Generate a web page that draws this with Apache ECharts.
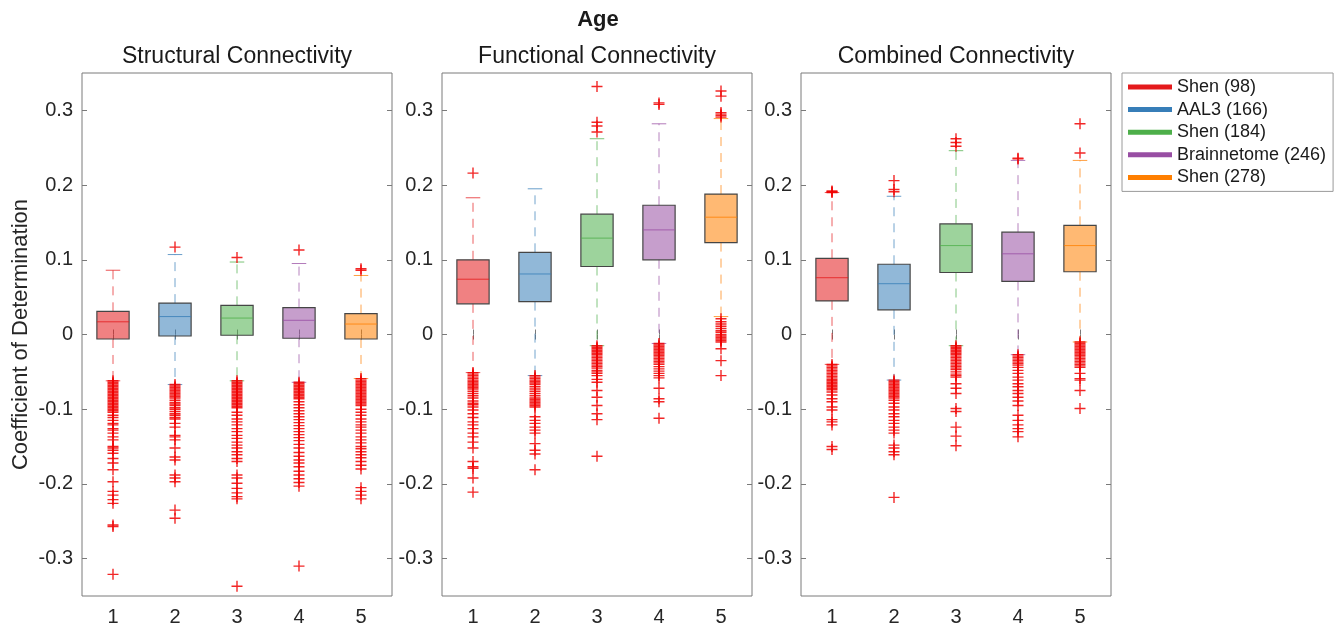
<!DOCTYPE html>
<html>
<head>
<meta charset="utf-8">
<script src="https://cdn.jsdelivr.net/npm/echarts@6/dist/echarts.min.js"></script>
<style>
html, body { margin: 0; padding: 0; background: #fff; }
#main { width: 1341px; height: 627px; }
</style>
</head>
<body>
<div id="main"></div>
<script>
// categories / labels
const categories = ['1', '2', '3', '4', '5'];
const atlasNames = ['Shen (98)', 'AAL3 (166)', 'Shen (184)', 'Brainnetome (246)', 'Shen (278)'];
const atlasColors = ['#e41a1c', '#377eb8', '#4daf4a', '#984ea3', '#ff7f00'];
const panelTitles = ['Structural Connectivity', 'Functional Connectivity', 'Combined Connectivity'];
const yTicks = [-0.3, -0.2, -0.1, 0, 0.1, 0.2, 0.3];

// box stats: [lower whisker, q1, median, q3, upper whisker]
const structBoxes = [
    [-0.062, -0.006, 0.017, 0.031, 0.086],
    [-0.067, -0.002, 0.024, 0.042, 0.107],
    [-0.062, -0.001, 0.022, 0.039, 0.097],
    [-0.064, -0.005, 0.019, 0.036, 0.095],
    [-0.059, -0.006, 0.014, 0.028, 0.079]
];
const funcBoxes = [
    [-0.051, 0.041, 0.074, 0.100, 0.183],
    [-0.055, 0.044, 0.081, 0.110, 0.195],
    [-0.015, 0.091, 0.129, 0.161, 0.262],
    [-0.012, 0.100, 0.140, 0.173, 0.282],
    [0.024, 0.123, 0.157, 0.188, 0.289]
];
const combBoxes = [
    [-0.040, 0.045, 0.076, 0.102, 0.190],
    [-0.061, 0.033, 0.068, 0.094, 0.185],
    [-0.015, 0.083, 0.119, 0.148, 0.246],
    [-0.027, 0.071, 0.108, 0.137, 0.233],
    [-0.010, 0.084, 0.119, 0.146, 0.233]
];

// outliers per box
const structOutliers = [
    [-0.062, -0.064, -0.066, -0.068, -0.070, -0.072, -0.074, -0.076, -0.078, -0.080, -0.082, -0.084, -0.086, -0.088, -0.090,
     -0.092, -0.094, -0.096, -0.098, -0.100, -0.102, -0.104, -0.108, -0.111, -0.115, -0.119, -0.121, -0.126, -0.128, -0.132,
     -0.137, -0.141, -0.150, -0.152, -0.155, -0.159, -0.166, -0.172, -0.181, -0.197, -0.210, -0.215, -0.221, -0.226, -0.255,
     -0.257, -0.321],
    [0.117, -0.067, -0.069, -0.071, -0.073, -0.075, -0.077, -0.079, -0.081, -0.083, -0.085, -0.088, -0.091, -0.093, -0.095,
     -0.098, -0.100, -0.103, -0.106, -0.108, -0.111, -0.113, -0.119, -0.124, -0.135, -0.137, -0.141, -0.152, -0.164, -0.168,
     -0.188, -0.192, -0.197, -0.235, -0.246],
    [0.103, -0.062, -0.064, -0.066, -0.068, -0.070, -0.072, -0.074, -0.076, -0.078, -0.080, -0.082, -0.084, -0.086, -0.088,
     -0.090, -0.092, -0.094, -0.096, -0.098, -0.104, -0.108, -0.113, -0.117, -0.121, -0.126, -0.130, -0.135, -0.139, -0.144,
     -0.148, -0.152, -0.157, -0.161, -0.166, -0.170, -0.188, -0.192, -0.199, -0.206, -0.212, -0.217, -0.220, -0.337],
    [0.113, -0.064, -0.066, -0.068, -0.070, -0.072, -0.074, -0.076, -0.078, -0.080, -0.082, -0.084, -0.086, -0.090, -0.094,
     -0.098, -0.102, -0.106, -0.110, -0.114, -0.118, -0.122, -0.126, -0.130, -0.134, -0.138, -0.142, -0.147, -0.152, -0.158,
     -0.163, -0.168, -0.172, -0.177, -0.183, -0.188, -0.193, -0.198, -0.203, -0.310],
    [0.086, 0.088, -0.059, -0.061, -0.063, -0.065, -0.067, -0.069, -0.071, -0.073, -0.075, -0.077, -0.079, -0.081, -0.083,
     -0.085, -0.087, -0.089, -0.091, -0.093, -0.095, -0.100, -0.104, -0.108, -0.113, -0.117, -0.121, -0.124, -0.128, -0.132,
     -0.137, -0.141, -0.145, -0.150, -0.153, -0.157, -0.161, -0.165, -0.170, -0.175, -0.180, -0.205, -0.210, -0.215, -0.220]
];
const funcOutliers = [
    [0.216, -0.051, -0.053, -0.055, -0.057, -0.059, -0.061, -0.063, -0.065, -0.067, -0.069, -0.071, -0.073, -0.076, -0.079,
     -0.082, -0.085, -0.089, -0.092, -0.094, -0.097, -0.101, -0.106, -0.111, -0.117, -0.121, -0.126, -0.132, -0.137, -0.144,
     -0.152, -0.170, -0.177, -0.179, -0.192, -0.211],
    [-0.055, -0.057, -0.059, -0.061, -0.063, -0.065, -0.067, -0.070, -0.073, -0.076, -0.079, -0.082, -0.085, -0.087, -0.089,
     -0.091, -0.093, -0.095, -0.097, -0.110, -0.115, -0.119, -0.124, -0.128, -0.132, -0.146, -0.155, -0.160, -0.181],
    [0.271, 0.279, 0.284, 0.332, -0.015, -0.017, -0.019, -0.021, -0.023, -0.025, -0.027, -0.029, -0.031, -0.033, -0.035,
     -0.037, -0.039, -0.041, -0.043, -0.045, -0.048, -0.050, -0.052, -0.055, -0.060, -0.064, -0.075, -0.084, -0.095, -0.106,
     -0.114, -0.163],
    [0.308, 0.310, -0.012, -0.014, -0.016, -0.018, -0.020, -0.022, -0.024, -0.026, -0.028, -0.030, -0.032, -0.034, -0.036,
     -0.038, -0.040, -0.043, -0.046, -0.049, -0.052, -0.055, -0.058, -0.072, -0.086, -0.090, -0.112],
    [0.291, 0.293, 0.295, 0.297, 0.319, 0.326, 0.021, 0.017, 0.014, 0.011, 0.008, 0.005, 0.003, 0.000, -0.002,
     -0.004, -0.006, -0.008, -0.010, -0.019, -0.035, -0.055]
];
const combOutliers = [
    [0.190, 0.191, 0.192, -0.040, -0.042, -0.044, -0.046, -0.048, -0.050, -0.052, -0.054, -0.056, -0.058, -0.060, -0.062,
     -0.064, -0.066, -0.068, -0.070, -0.072, -0.074, -0.077, -0.081, -0.086, -0.090, -0.097, -0.101, -0.114, -0.117, -0.121,
     -0.150, -0.154],
    [0.191, 0.194, 0.206, -0.061, -0.063, -0.065, -0.067, -0.069, -0.071, -0.073, -0.075, -0.077, -0.079, -0.081, -0.083,
     -0.085, -0.088, -0.092, -0.097, -0.101, -0.106, -0.110, -0.115, -0.119, -0.124, -0.128, -0.132, -0.148, -0.152, -0.157,
     -0.161, -0.218],
    [0.252, 0.257, 0.262, -0.015, -0.017, -0.019, -0.021, -0.023, -0.025, -0.027, -0.029, -0.031, -0.033, -0.035, -0.037,
     -0.039, -0.041, -0.043, -0.045, -0.047, -0.050, -0.053, -0.055, -0.057, -0.066, -0.072, -0.079, -0.099, -0.103, -0.124,
     -0.136, -0.149],
    [0.235, 0.236, -0.027, -0.029, -0.031, -0.033, -0.035, -0.037, -0.039, -0.041, -0.044, -0.048, -0.052, -0.057, -0.061,
     -0.066, -0.070, -0.075, -0.079, -0.084, -0.089, -0.095, -0.108, -0.115, -0.121, -0.126, -0.130, -0.137],
    [0.243, 0.282, -0.010, -0.012, -0.014, -0.016, -0.018, -0.020, -0.022, -0.024, -0.026, -0.028, -0.030, -0.032, -0.034,
     -0.036, -0.038, -0.040, -0.042, -0.044, -0.052, -0.059, -0.061, -0.075, -0.099]
];

const panels = [
    {boxes: structBoxes, outliers: structOutliers},
    {boxes: funcBoxes, outliers: funcOutliers},
    {boxes: combBoxes, outliers: combOutliers}
];

const FONT = '"Liberation Sans", Arial, Helvetica, sans-serif';
const gridLefts = [82, 442, 801];
const GRID_W = 310;
const GRID_TOP = 73;
const GRID_H = 523;

function fillOf(hex) {
    const r = parseInt(hex.slice(1, 3), 16), g = parseInt(hex.slice(3, 5), 16), b = parseInt(hex.slice(5, 7), 16);
    return 'rgba(' + r + ',' + g + ',' + b + ',0.55)';
}

function renderBox(params, api) {
    const idx = api.value(0);
    const c = atlasColors[idx];
    const half = api.size([1, 0])[0] * 0.26;
    const cap = half * 0.45;
    const x = api.coord([idx, 0])[0];
    const yLo = api.coord([idx, api.value(1)])[1];
    const yQ1 = api.coord([idx, api.value(2)])[1];
    const yMed = api.coord([idx, api.value(3)])[1];
    const yQ3 = api.coord([idx, api.value(4)])[1];
    const yHi = api.coord([idx, api.value(5)])[1];
    const whisker = {stroke: c, lineWidth: 1, opacity: 0.7, lineDash: [9, 7]};
    const capStyle = {stroke: c, lineWidth: 1, opacity: 0.75};
    return {
        type: 'group',
        children: [
            {type: 'line', shape: {x1: x, y1: yQ3, x2: x, y2: yHi}, style: whisker},
            {type: 'line', shape: {x1: x, y1: yQ1, x2: x, y2: yLo}, style: whisker},
            {type: 'line', shape: {x1: x - cap, y1: yHi, x2: x + cap, y2: yHi}, style: capStyle},
            {type: 'line', shape: {x1: x - cap, y1: yLo, x2: x + cap, y2: yLo}, style: capStyle},
            {type: 'rect', shape: {x: x - half, y: yQ3, width: 2 * half, height: yQ1 - yQ3},
                style: {fill: fillOf(c), stroke: '#454545', lineWidth: 1.2}},
            {type: 'line', shape: {x1: x - half, y1: yMed, x2: x + half, y2: yMed},
                style: {stroke: c, lineWidth: 1, opacity: 0.8}}
        ]
    };
}

const grids = [], xAxes = [], yAxes = [], series = [];
panels.forEach((p, g) => {
    grids.push({left: gridLefts[g], top: GRID_TOP, width: GRID_W, height: GRID_H,
        show: true, borderColor: '#7a7a7a', borderWidth: 1, backgroundColor: 'transparent'});
    const tick = {show: true, inside: true, length: 5, lineStyle: {color: '#7a7a7a'}};
    xAxes.push({gridIndex: g, type: 'category', data: categories, position: 'bottom', boundaryGap: true,
        axisLine: {show: false}, axisTick: Object.assign({alignWithLabel: true}, tick),
        axisLabel: {fontSize: 20, color: '#262626', margin: 11, fontFamily: FONT}, splitLine: {show: false}});
    xAxes.push({gridIndex: g, type: 'category', data: categories, position: 'top', boundaryGap: true,
        axisLine: {show: false}, axisTick: Object.assign({alignWithLabel: true}, tick),
        axisLabel: {show: false}, splitLine: {show: false}});
    const yBase = {gridIndex: g, type: 'value', min: -0.35, max: 0.35, axisLine: {show: false},
        splitLine: {show: false}, axisTick: Object.assign({customValues: yTicks}, tick)};
    yAxes.push(Object.assign({}, yBase, {position: 'left',
        axisLabel: {customValues: yTicks, fontSize: 20, color: '#262626', margin: 9, fontFamily: FONT,
            formatter: v => String(+(+v).toFixed(1))},
        name: g === 0 ? 'Coefficient of Determination' : '', nameLocation: 'middle', nameGap: 50,
        nameTextStyle: {fontSize: 22, color: '#262626', fontFamily: FONT}}));
    yAxes.push(Object.assign({}, yBase, {position: 'right', axisLabel: {show: false}}));

    series.push({
        type: 'custom', xAxisIndex: 2 * g, yAxisIndex: 2 * g, renderItem: renderBox,
        encode: {x: 0, y: [1, 2, 3, 4, 5]}, silent: true,
        data: p.boxes.map((b, i) => [i].concat(b))
    });
    series.push({
        type: 'scatter', xAxisIndex: 2 * g, yAxisIndex: 2 * g, silent: true,
        symbol: 'path://M0,5L10,5M5,0L5,10', symbolSize: 11,
        itemStyle: {color: 'rgba(0,0,0,0)', borderColor: '#f00000', borderWidth: 1.4, opacity: 0.85},
        data: p.outliers.flatMap((arr, i) => arr.map(v => [i, v]))
    });
});

// legend-only series
atlasNames.forEach((name, i) => {
    series.push({type: 'line', name: name, xAxisIndex: 0, yAxisIndex: 0, data: [],
        itemStyle: {color: atlasColors[i]}, lineStyle: {color: atlasColors[i]}});
});

const graphics = [
    {type: 'text', x: 598, y: 20, style: {text: 'Age', fontSize: 22, fontWeight: 'bold', fontFamily: FONT,
        fill: '#1a1a1a', textAlign: 'center', textVerticalAlign: 'middle'}}
];
panelTitles.forEach((t, g) => {
    graphics.push({type: 'text', x: gridLefts[g] + GRID_W / 2, y: 57,
        style: {text: t, fontSize: 23, fontFamily: FONT, fill: '#1a1a1a', textAlign: 'center', textVerticalAlign: 'middle'}});
});

const chart = echarts.init(document.getElementById('main'), null, {renderer: 'canvas'});
chart.setOption({
    animation: false,
    backgroundColor: '#ffffff',
    textStyle: {fontFamily: FONT},
    grid: grids,
    xAxis: xAxes,
    yAxis: yAxes,
    legend: {
        data: atlasNames, orient: 'vertical', left: 1122, top: 73,
        icon: 'rect', itemWidth: 44, itemHeight: 5, itemGap: 4.6,
        padding: [5, 7, 5, 6], borderColor: '#9a9a9a', borderWidth: 1,
        textStyle: {fontSize: 18, color: '#1a1a1a', fontFamily: FONT},
        selectedMode: false
    },
    graphic: graphics,
    series: series
});
</script>
</body>
</html>
